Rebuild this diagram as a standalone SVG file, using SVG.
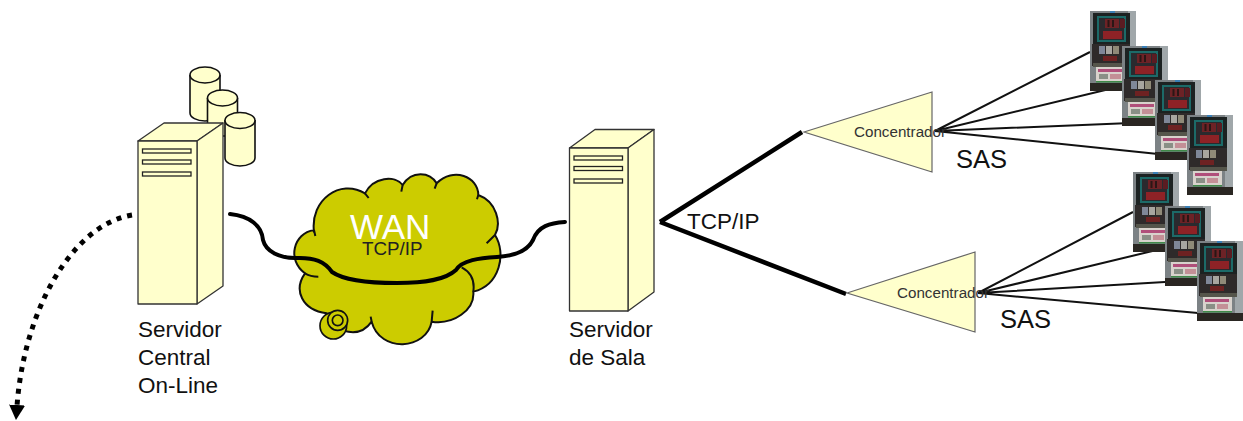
<svg xmlns="http://www.w3.org/2000/svg" width="1243" height="421" viewBox="0 0 1243 421">
<style>
text{font-family:"Liberation Sans",Arial,sans-serif;fill:#111}
.lb{font-size:22.5px}
.sas{font-size:25.5px}
.con{font-size:15.2px;fill:#333}
.box{fill:#ffffcc;stroke:#333;stroke-width:1.3;stroke-linejoin:round}
.cyl{fill:#ffffcc;stroke:#111;stroke-width:1.6}
.slot{fill:#ffffcc;stroke:#222;stroke-width:1.3}
.tri{fill:#ffffcc;stroke:#666;stroke-width:1.2}
.thick{fill:none;stroke:#000;stroke-width:4.500}
.thin{fill:none;stroke:#111;stroke-width:2}
.cl{fill:#cccc00;stroke:#111;stroke-width:6;stroke-linejoin:round}
.st{fill:none;stroke:#111;stroke-width:6}
</style>
<defs>
<filter id="soft" x="-5%" y="-5%" width="110%" height="110%"><feGaussianBlur stdDeviation="0.6"/></filter>
<marker id="ah" markerWidth="15" markerHeight="16" refX="1" refY="8" orient="auto" markerUnits="userSpaceOnUse" viewBox="0 0 15 16"><path d="M0,0L15,8L0,16Z" fill="#000"/></marker>
<symbol id="slotm" width="46" height="80" viewBox="0 0 46 80" overflow="visible">
<g filter="url(#soft)">
<rect width="46" height="80" fill="#7b8285"/>
<rect x="38" y="0" width="8" height="72" fill="#a0a7aa"/>
<rect x="20" y="0" width="5" height="3" fill="#3a7fb5"/>
<rect x="3" y="2" width="37" height="31" fill="#1e2224"/>
<rect x="7" y="5" width="29" height="26" fill="#1f6a68"/>
<rect x="9" y="7" width="25" height="22" fill="#2b2c2e"/>
<rect x="15" y="8" width="14" height="9" fill="#6d2226"/>
<rect x="17.500" y="9" width="2" height="7" fill="#2a1416"/>
<rect x="22" y="9" width="2" height="7" fill="#2a1416"/>
<rect x="30" y="8" width="5" height="9" fill="#5a1a20"/>
<rect x="13" y="20" width="19" height="8" fill="#8e2325"/>
<rect x="2" y="33" width="38" height="22" fill="#2e2a2a"/>
<rect x="9" y="35" width="6" height="8" fill="#7f8798"/>
<rect x="16" y="35" width="6" height="8" fill="#a8a6a0"/>
<rect x="23" y="35" width="6" height="8" fill="#8f8a78"/>
<rect x="13" y="45" width="14" height="5" fill="#6e2024"/>
<rect x="3" y="52" width="37" height="4" fill="#55544c"/>
<rect x="6" y="56" width="29" height="15" fill="#d8d2cc"/>
<rect x="8" y="58" width="24" height="3" fill="#b0507a"/>
<rect x="9" y="63" width="9" height="5" fill="#8a8f86"/>
<rect x="20" y="63" width="11" height="5" fill="#c38f96"/>
<rect x="6" y="70" width="29" height="1.500" fill="#3f8a4a"/>
<rect x="0" y="72" width="46" height="8" fill="#2a2823"/>
</g>
</symbol>
</defs>

<g id="connectors">
<path class="thick" d="M660,222 L802,132 M660,222 L846,294"/>
<g>
<path class="thin" d="M935,131L1090,52M935,131L1122,86M935,131L1155,122M935,131L1187,157"/>
<path class="thin" d="M978,293L1133,212M978,293L1165,248M978,293L1165,282M978,293L1198,313"/>
</g>
<path d="M132,215C72,225 24,310 17,406" fill="none" stroke="#000" stroke-width="5" stroke-dasharray="5 6" marker-end="url(#ah)"/>
</g>

<g id="cylinders">
<g id="db1"><path class="cyl" d="M190,75V113A15,8 0 0 0 220,113V75"/><ellipse class="cyl" cx="205" cy="75" rx="15" ry="8"/></g>
<g id="db2"><path class="cyl" d="M207.500,98V136H237.500V98"/><ellipse class="cyl" cx="222.500" cy="98" rx="15" ry="8"/></g>
</g>

<g id="server-central">
<path class="box" d="M138,141L164,123H223L197,141Z"/>
<path class="box" d="M197,141L223,123V286L197,304Z"/>
<rect class="box" x="138" y="141" width="59" height="163"/>
<rect class="slot" x="142.500" y="149" width="48.500" height="4"/>
<rect class="slot" x="142.500" y="160" width="48.500" height="4"/>
<rect class="slot" x="142.500" y="172" width="48.500" height="4"/>
<text class="lb" x="138" y="337">Servidor</text>
<text class="lb" x="138" y="365">Central</text>
<text class="lb" x="138" y="393">On-Line</text>
</g>
<g id="db3"><path class="cyl" d="M225,120V158A15,8 0 0 0 255,158V120"/><ellipse class="cyl" cx="240" cy="120.500" rx="15" ry="8"/></g>

<g id="wan">
<g transform="translate(230 160) scale(.3333)">
<path class="cl" d="M252,215C240,120 330,55 405,100C430,50 495,45 518,75C545,30 600,35 620,70C670,20 745,50 745,105C800,125 815,190 795,225C830,280 810,375 730,395C735,450 670,495 605,485C590,570 450,580 425,485C390,535 320,525 290,460C215,450 190,390 225,340C170,300 190,220 252,210Z"/>
<path class="st" d="M405,100L416,114M518,75L514,95M620,70L614,86M745,105L741,118M795,225L770,250M730,395C735,360 720,335 695,322M225,340C238,348 250,350 265,350M605,485L608,452M425,485L422,470M252,210L256,228"/>
<circle cx="310" cy="497" r="40" fill="#cccc00" stroke="#111" stroke-width="5"/>
<circle cx="323" cy="481" r="30" fill="#cccc00" stroke="#111" stroke-width="5"/>
<circle cx="323" cy="481" r="16" fill="#cccc00" stroke="#111" stroke-width="5"/>
</g>
<text x="350" y="239" style="font-size:35px;fill:#fff">WAN</text>
<text x="362" y="255" style="font-size:18.800px;fill:#222">TCP/IP</text>
</g>

<path id="wan-line" fill="none" stroke="#000" stroke-width="4" stroke-linecap="round" d="M230,214C250,216 262,226 263,240C266,252 280,258 295,258C315,257 325,262 332,272C345,281 370,283 397,283C425,283 445,280 456,270C462,260 480,258 497,257C515,256 528,250 533,240C538,226 550,223 565,222"/>

<g id="server-sala">
<path class="box" d="M569.500,148L595,129.500H654L628,148Z"/>
<path class="box" d="M628,148L654,129.500V292L628,311Z"/>
<rect class="box" x="569.500" y="148" width="58.500" height="163"/>
<rect class="slot" x="574" y="156" width="48.500" height="4"/>
<rect class="slot" x="574" y="166.500" width="48.500" height="4"/>
<rect class="slot" x="574" y="179" width="48.500" height="4"/>
<text class="lb" x="569" y="337">Servidor</text>
<text class="lb" x="569" y="365">de Sala</text>
</g>
<text id="label-tcp" class="lb" x="687" y="229">TCP/IP</text>

<g id="concentrador-1">
<path class="tri" d="M804,132L932,92V172Z"/>
<text class="con" x="854" y="137">Concentrador</text>
</g>
<text id="sas-1" class="sas" x="956" y="168">SAS</text>
<g id="concentrador-2">
<path class="tri" d="M847,293L975,252V332Z"/>
<text class="con" x="897" y="298">Concentrador</text>
</g>
<text id="sas-2" class="sas" x="1000" y="328">SAS</text>

<g id="machines-1">
<use href="#slotm" x="1090" y="11"/>
<use href="#slotm" x="1122" y="46"/>
<use href="#slotm" x="1155" y="80"/>
<use href="#slotm" x="1187" y="115"/>
</g>
<g id="machines-2">
<use href="#slotm" x="1133" y="172"/>
<use href="#slotm" x="1165" y="206"/>
<use href="#slotm" x="1197" y="241"/>
</g>
</svg>
